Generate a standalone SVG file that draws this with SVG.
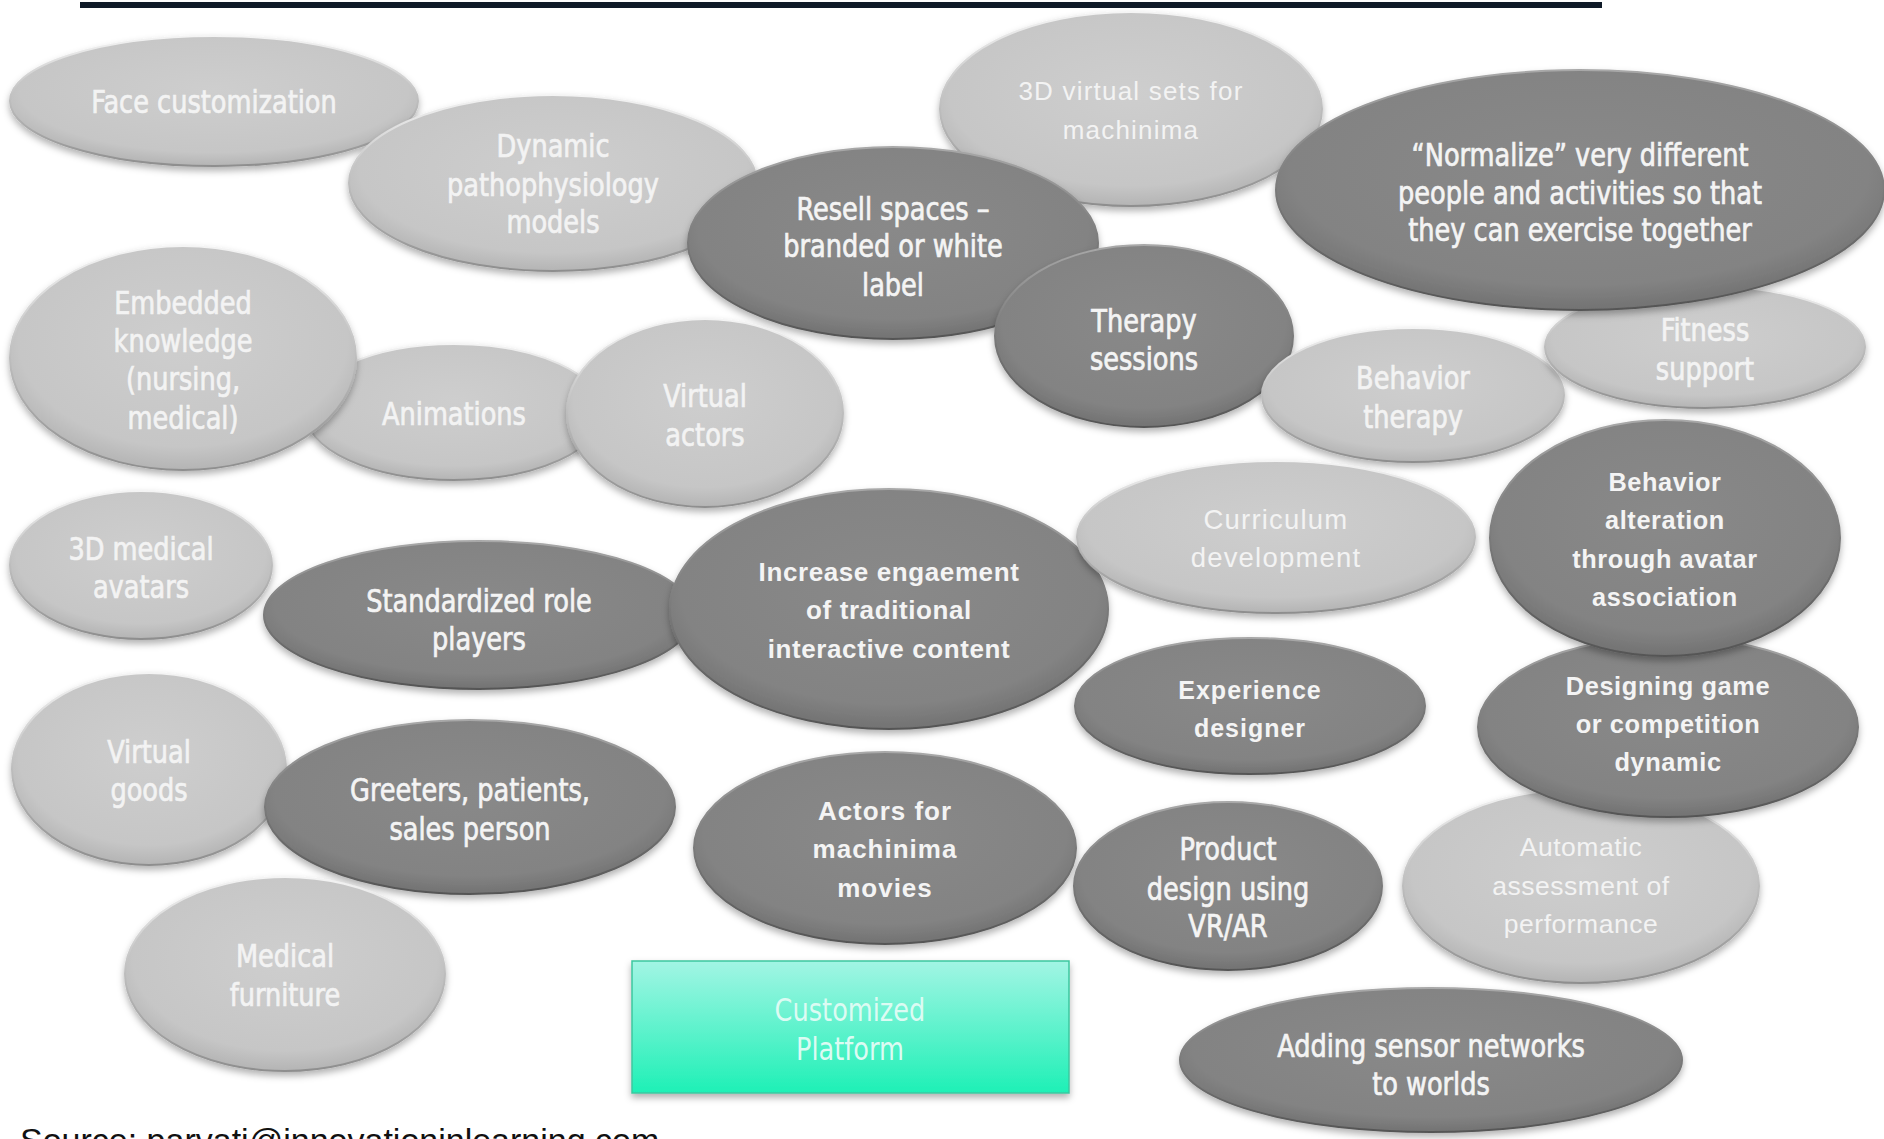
<svg xmlns="http://www.w3.org/2000/svg" width="1884" height="1139" viewBox="0 0 1884 1139">
<defs>
<radialGradient id="gl" cx="50%" cy="42%" r="58%">
<stop offset="0" stop-color="#cecece"/><stop offset="0.82" stop-color="#c6c6c6"/><stop offset="1" stop-color="#b4b4b4"/>
</radialGradient>
<radialGradient id="gd" cx="50%" cy="42%" r="58%">
<stop offset="0" stop-color="#898989"/><stop offset="0.82" stop-color="#838383"/><stop offset="1" stop-color="#727272"/>
</radialGradient>
<linearGradient id="sl" x1="0" y1="0" x2="0" y2="1">
<stop offset="0" stop-color="#f4f4f4"/><stop offset="0.5" stop-color="#bdbdbd"/><stop offset="1" stop-color="#8e8e8e"/>
</linearGradient>
<linearGradient id="sd" x1="0" y1="0" x2="0" y2="1">
<stop offset="0" stop-color="#a8a8a8"/><stop offset="0.5" stop-color="#7a7a7a"/><stop offset="1" stop-color="#555555"/>
</linearGradient>
<linearGradient id="gt" x1="0" y1="0" x2="0" y2="1">
<stop offset="0" stop-color="#a2f5e4"/><stop offset="1" stop-color="#1ef0b6"/>
</linearGradient>
<filter id="sh" x="-10%" y="-10%" width="120%" height="130%">
<feDropShadow dx="0" dy="4" stdDeviation="3.5" flood-color="#000" flood-opacity="0.3"/>
</filter>
</defs>
<style>
.l{fill:url(#gl);stroke:url(#sl);stroke-width:2;filter:url(#sh)}
.d{fill:url(#gd);stroke:url(#sd);stroke-width:2;filter:url(#sh)}
text{text-anchor:middle;dominant-baseline:central}
.tn{font-family:"Liberation Sans Narrow","DejaVu Sans Condensed","Liberation Sans",sans-serif;font-size:32px;stroke-width:0.7px}
.tc{font-family:"Liberation Sans","Noto Sans",sans-serif;font-size:25px;letter-spacing:1px}
.b{font-weight:bold;letter-spacing:0.6px}
.wl{fill:#f3f3f3;stroke:#f3f3f3}
.wd{fill:#f4f4f4;stroke:#f4f4f4}
.tc.wl,.tc.wd{stroke:none}
.src{font-family:"Liberation Sans",Arial,sans-serif;font-size:34px;fill:#111;text-anchor:start;dominant-baseline:auto}
</style>
<rect x="80" y="2" width="1522" height="6" fill="#0f1a28"/>
<g id="nodes">
<g id="n-face"><ellipse class="l" cx="214" cy="101" rx="204" ry="65"/><text class="tn wl" transform="matrix(0.89,0,0,1,23.54,0)"><tspan x="214" y="101">Face customization</tspan></text></g>
<g id="n-dynamic"><ellipse class="l" cx="553" cy="183" rx="204" ry="88"/><text class="tn wl" transform="matrix(0.89,0,0,1,60.83,0)"><tspan x="553" y="145">Dynamic</tspan><tspan x="553" y="184">pathophysiology</tspan><tspan x="553" y="221">models</tspan></text></g>
<g id="n-sets"><ellipse class="l" cx="1131" cy="109" rx="191" ry="97"/><text class="tc wl" style="font-size:26px;letter-spacing:1.2px"><tspan x="1131" y="91">3D virtual sets for</tspan><tspan x="1131" y="130">machinima</tspan></text></g>
<g id="n-resell"><ellipse class="d" cx="893" cy="243" rx="205" ry="96"/><text class="tn wd" transform="matrix(0.89,0,0,1,98.23,0)"><tspan x="893" y="208">Resell spaces –</tspan><tspan x="893" y="245">branded or white</tspan><tspan x="893" y="284">label</tspan></text></g>
<g id="n-therapy"><ellipse class="d" cx="1144" cy="336" rx="149" ry="91"/><text class="tn wd" transform="matrix(0.89,0,0,1,125.84,0)"><tspan x="1144" y="320">Therapy</tspan><tspan x="1144" y="358">sessions</tspan></text></g>
<g id="n-behther"><ellipse class="l" cx="1413" cy="395" rx="151" ry="67"/><text class="tn wl" transform="matrix(0.89,0,0,1,155.43,0)"><tspan x="1413" y="377">Behavior</tspan><tspan x="1413" y="416">therapy</tspan></text></g>
<g id="n-fitness"><ellipse class="l" cx="1705" cy="347" rx="160" ry="61"/><text class="tn wl" transform="matrix(0.89,0,0,1,187.55,0)"><tspan x="1705" y="329">Fitness</tspan><tspan x="1705" y="368">support</tspan></text></g>
<g id="n-normalize"><ellipse class="d" cx="1580" cy="190" rx="304" ry="120"/><text class="tn wd" transform="matrix(0.89,0,0,1,173.8,0)"><tspan x="1580" y="154">“Normalize” very different</tspan><tspan x="1580" y="192">people and activities so that</tspan><tspan x="1580" y="229">they can exercise together</tspan></text></g>
<g id="n-anim"><ellipse class="l" cx="454" cy="412" rx="149" ry="68"/><text class="tn wl" transform="matrix(0.89,0,0,1,49.94,0)"><tspan x="454" y="413">Animations</tspan></text></g>
<g id="n-embedded"><ellipse class="l" cx="183" cy="358" rx="173" ry="112"/><text class="tn wl" transform="matrix(0.89,0,0,1,20.13,0)"><tspan x="183" y="302">Embedded</tspan><tspan x="183" y="340">knowledge</tspan><tspan x="183" y="378">(nursing,</tspan><tspan x="183" y="417">medical)</tspan></text></g>
<g id="n-vactors"><ellipse class="l" cx="705" cy="413" rx="138" ry="94"/><text class="tn wl" transform="matrix(0.89,0,0,1,77.55,0)"><tspan x="705" y="395">Virtual</tspan><tspan x="705" y="434">actors</tspan></text></g>
<g id="n-3dmed"><ellipse class="l" cx="141" cy="565" rx="131" ry="74"/><text class="tn wl" transform="matrix(0.89,0,0,1,15.51,0)"><tspan x="141" y="548">3D medical</tspan><tspan x="141" y="586">avatars</tspan></text></g>
<g id="n-std"><ellipse class="d" cx="479" cy="615" rx="215" ry="74"/><text class="tn wd" transform="matrix(0.89,0,0,1,52.69,0)"><tspan x="479" y="600">Standardized role</tspan><tspan x="479" y="638">players</tspan></text></g>
<g id="n-increase"><ellipse class="d" cx="889" cy="609" rx="219" ry="120"/><text class="tc b wd" style="font-size:26px"><tspan x="889" y="572">Increase engaement</tspan><tspan x="889" y="610">of traditional</tspan><tspan x="889" y="649">interactive content</tspan></text></g>
<g id="n-curr"><ellipse class="l" cx="1276" cy="537" rx="199" ry="76"/><text class="tc wl" style="font-size:27.5px;letter-spacing:1.2px"><tspan x="1276" y="519">Curriculum</tspan><tspan x="1276" y="557">development</tspan></text></g>
<g id="n-auto"><ellipse class="l" cx="1581" cy="886" rx="178" ry="97"/><text class="tc wl" style="font-size:26.5px;letter-spacing:0.5px"><tspan x="1581" y="847">Automatic</tspan><tspan x="1581" y="886">assessment of</tspan><tspan x="1581" y="924">performance</tspan></text></g>
<g id="n-design"><ellipse class="d" cx="1668" cy="727" rx="190" ry="90"/><text class="tc b wd" style="font-size:25.4px"><tspan x="1668" y="686">Designing game</tspan><tspan x="1668" y="724">or competition</tspan><tspan x="1668" y="762">dynamic</tspan></text></g>
<g id="n-behalt"><ellipse class="d" cx="1665" cy="538" rx="175" ry="118"/><text class="tc b wd" style="font-size:25.3px"><tspan x="1665" y="482">Behavior</tspan><tspan x="1665" y="520">alteration</tspan><tspan x="1665" y="559">through avatar</tspan><tspan x="1665" y="597">association</tspan></text></g>
<g id="n-exp"><ellipse class="d" cx="1250" cy="706" rx="175" ry="68"/><text class="tc b wd" style="font-size:25px;letter-spacing:1px"><tspan x="1250" y="690">Experience</tspan><tspan x="1250" y="728">designer</tspan></text></g>
<g id="n-vgoods"><ellipse class="l" cx="149" cy="769" rx="137" ry="96"/><text class="tn wl" transform="matrix(0.89,0,0,1,16.39,0)"><tspan x="149" y="751">Virtual</tspan><tspan x="149" y="789">goods</tspan></text></g>
<g id="n-greet"><ellipse class="d" cx="470" cy="807" rx="205" ry="87"/><text class="tn wd" transform="matrix(0.89,0,0,1,51.7,0)"><tspan x="470" y="789">Greeters, patients,</tspan><tspan x="470" y="828">sales person</tspan></text></g>
<g id="n-actors"><ellipse class="d" cx="885" cy="848" rx="191" ry="96"/><text class="tc b wd" style="font-size:26px;letter-spacing:1px"><tspan x="885" y="811">Actors for</tspan><tspan x="885" y="849">machinima</tspan><tspan x="885" y="888">movies</tspan></text></g>
<g id="n-product"><ellipse class="d" cx="1228" cy="886" rx="154" ry="84"/><text class="tn wd" transform="matrix(0.89,0,0,1,135.08,0)"><tspan x="1228" y="848">Product</tspan><tspan x="1228" y="888">design using</tspan><tspan x="1228" y="925">VR/AR</tspan></text></g>
<g id="n-furn"><ellipse class="l" cx="285" cy="974" rx="160" ry="97"/><text class="tn wl" transform="matrix(0.89,0,0,1,31.35,0)"><tspan x="285" y="955">Medical</tspan><tspan x="285" y="994">furniture</tspan></text></g>
<g id="n-sensor"><ellipse class="d" cx="1431" cy="1060" rx="251" ry="72"/><text class="tn wd" transform="matrix(0.89,0,0,1,157.41,0)"><tspan x="1431" y="1045">Adding sensor  networks</tspan><tspan x="1431" y="1083">to worlds</tspan></text></g>
<g id="n-platform"><rect x="632" y="961" width="437" height="132" fill="url(#gt)" stroke="#3cc79f" stroke-width="1.5" filter="url(#sh)"/><text class="tn" style="fill:#dcfbf3" transform="matrix(0.89,0,0,1,93.5,0)"><tspan x="850" y="1009">Customized</tspan><tspan x="850" y="1048">Platform</tspan></text></g>
</g>
<g id="connectors"/>
<text class="src" x="20" y="1152">Source: parvati@innovationinlearning.com</text>
</svg>
